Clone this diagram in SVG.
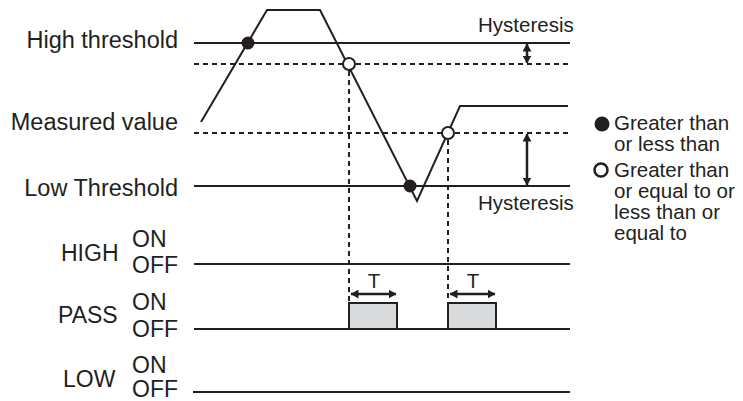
<svg xmlns="http://www.w3.org/2000/svg" width="743" height="401" viewBox="0 0 743 401">
<defs>
<style>
.t{font-family:"Liberation Sans",Arial,Helvetica,sans-serif;fill:#231f20}
.big{font-size:23.5px}
.lbl{font-size:23px}
.sm{font-size:20.5px}
.ln{stroke:#231f20;stroke-width:2;fill:none}
.dash{stroke:#231f20;stroke-width:2;fill:none;stroke-dasharray:5 4}
.arr{stroke:#231f20;stroke-width:2.5;fill:none;marker-start:url(#ah);marker-end:url(#ah)}
.dot{fill:#231f20}
.ring{fill:#fff;stroke:#231f20;stroke-width:2}
.pulse{fill:#d9dadb;stroke:#231f20;stroke-width:2}
</style>
<marker id="ah" viewBox="0 0 8 9" refX="7.5" refY="4.5" markerWidth="8" markerHeight="9" markerUnits="userSpaceOnUse" orient="auto-start-reverse">
<path d="M0,0 L8,4.5 L0,9 z" fill="#231f20"/>
</marker>
</defs>
<rect width="743" height="401" fill="#fff"/>

<g id="labels-analog">
<text class="t big" x="178" y="48" text-anchor="end">High threshold</text>
<text class="t big" x="178" y="130" text-anchor="end">Measured value</text>
<text class="t big" x="178" y="196" text-anchor="end">Low Threshold</text>
</g>

<g id="thresholds">
<line class="ln" x1="194" y1="43" x2="570" y2="43"/>
<line class="dash" x1="194" y1="64" x2="570" y2="64"/>
<line class="dash" x1="194" y1="133" x2="570" y2="133"/>
<line class="ln" x1="194" y1="186" x2="570" y2="186"/>
</g>

<g id="hysteresis">
<text class="t sm" x="478" y="31.5">Hysteresis</text>
<text class="t sm" x="478" y="210">Hysteresis</text>
</g>

<g id="connectors">
<line class="arr" x1="527" y1="44" x2="527" y2="63"/>
<line class="arr" x1="527" y1="134" x2="527" y2="185"/>
<line class="dash" x1="349" y1="71" x2="349" y2="302"/>
<line class="dash" x1="448" y1="140" x2="448" y2="302"/>
<line class="arr" x1="351" y1="294" x2="396" y2="294"/>
<line class="arr" x1="450" y1="294" x2="495" y2="294"/>
</g>

<g id="measured-trace">
<polyline class="ln" points="201,122 267,10 320,10 417,201 460,106 568,106"/>
<circle class="dot" cx="248" cy="43" r="6.5"/>
<circle class="ring" cx="349" cy="64" r="6"/>
<circle class="dot" cx="410" cy="186" r="6.5"/>
<circle class="ring" cx="448" cy="133" r="6"/>
</g>

<g id="T-labels">
<text class="t sm" x="374" y="288" text-anchor="middle">T</text>
<text class="t sm" x="473" y="288" text-anchor="middle">T</text>
</g>

<g id="HIGH">
<text class="t lbl" x="61" y="261">HIGH</text>
<text class="t lbl" x="132" y="247">ON</text>
<text class="t lbl" x="132" y="273">OFF</text>
<line class="ln" x1="194" y1="264" x2="570" y2="264"/>
</g>

<g id="PASS">
<text class="t lbl" x="58" y="323">PASS</text>
<text class="t lbl" x="132" y="310">ON</text>
<text class="t lbl" x="132" y="337">OFF</text>
<rect class="pulse" x="349" y="303" width="48" height="26"/>
<rect class="pulse" x="448" y="303" width="48" height="26"/>
<line class="ln" x1="194" y1="329" x2="570" y2="329"/>
</g>

<g id="LOW">
<text class="t lbl" x="63" y="387">LOW</text>
<text class="t lbl" x="132" y="373">ON</text>
<text class="t lbl" x="132" y="397">OFF</text>
<line class="ln" x1="193" y1="392" x2="570" y2="392"/>
</g>

<g id="legend">
<circle class="dot" cx="602" cy="124" r="7.5"/>
<text class="t sm" x="614" y="130">Greater than<tspan x="614" dy="21">or less than</tspan></text>
<circle cx="601" cy="170" r="6.5" fill="#fff" stroke="#231f20" stroke-width="2.5"/>
<text class="t sm" x="614" y="177">Greater than<tspan x="614" dy="21">or equal to or</tspan><tspan x="614" dy="21">less than or</tspan><tspan x="614" dy="21">equal to</tspan></text>
</g>
</svg>
